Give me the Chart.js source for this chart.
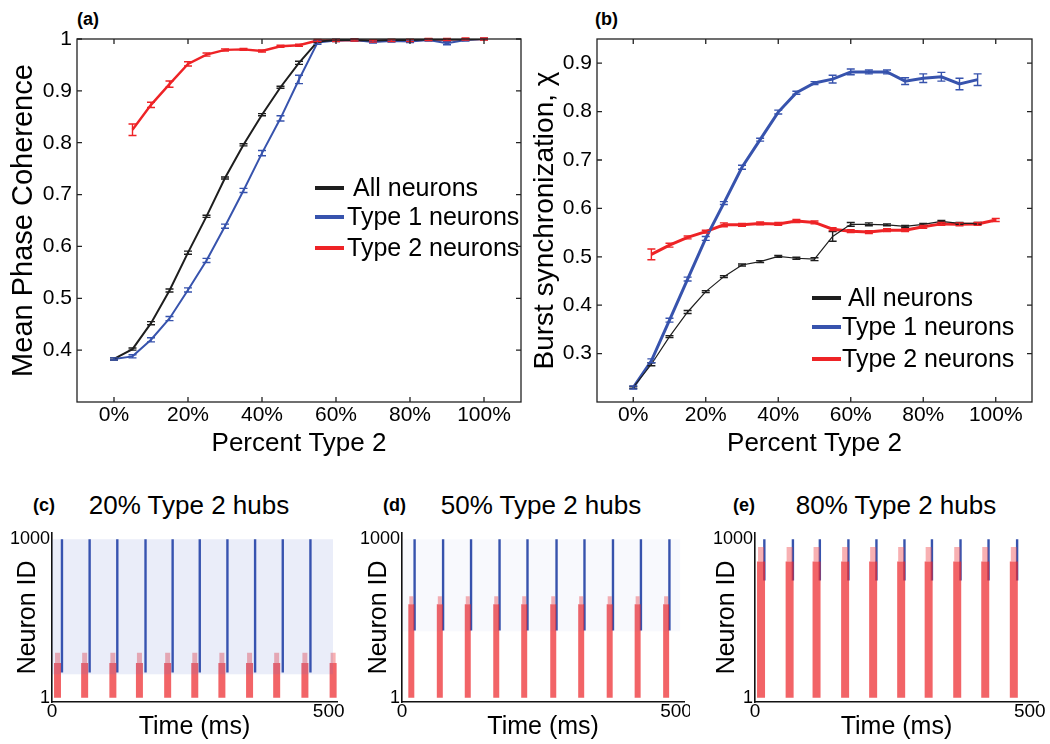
<!DOCTYPE html>
<html>
<head>
<meta charset="utf-8">
<script src="https://cdn.jsdelivr.net/npm/chart.js@4.4.1/dist/chart.umd.min.js"></script>
<style>
  body { margin: 0; background: #fff; width: 1050px; height: 744px; overflow: hidden; position: relative;
         font-family: 'Liberation Sans', Arial, sans-serif; color: #000; }
  canvas { position: absolute; }
  .lab { position: absolute; font-weight: bold; font-size: 18px; line-height: 18px; }
  .ttl { position: absolute; font-size: 26px; line-height: 26px; white-space: nowrap; transform: translateX(-50%); }
</style>
</head>
<body>
<div class="lab" style="left:77px;top:10px">(a)</div>
<div class="lab" style="left:595px;top:10px">(b)</div>
<div class="lab" style="left:33px;top:496px">(c)</div>
<div class="ttl" style="left:189px;top:492px">20% Type 2 hubs</div>
<div class="lab" style="left:383px;top:496px">(d)</div>
<div class="ttl" style="left:541px;top:492px">50% Type 2 hubs</div>
<div class="lab" style="left:733px;top:496px">(e)</div>
<div class="ttl" style="left:896px;top:492px">80% Type 2 hubs</div>

<canvas id="ga" width="525" height="470" style="left:0;top:0"></canvas>
<canvas id="gb" width="525" height="470" style="left:525px;top:0"></canvas>
<canvas id="gc" width="345" height="224" style="left:0;top:520px"></canvas>
<canvas id="gd" width="345" height="224" style="left:345px;top:520px"></canvas>
<canvas id="ge" width="360" height="224" style="left:690px;top:520px"></canvas>

<script>
// percent of type 2 neurons
const pct = [0, 5, 10, 15, 20, 25, 30, 35, 40, 45, 50, 55, 60, 65, 70, 75, 80, 85, 90, 95, 100];
const pctTicks = [0, 20, 40, 60, 80, 100];

// (a) mean phase coherence
const allA = [0.383, 0.402, 0.452, 0.515, 0.588, 0.658, 0.732, 0.796, 0.854, 0.907, 0.954, 0.995, 0.998, 0.998, 0.997, 0.998, 0.998, 0.999, 0.999, 0.999, 1.0];
const t1A  = [0.383, 0.388, 0.420, 0.461, 0.516, 0.573, 0.639, 0.708, 0.780, 0.847, 0.922, 0.993, 0.997, 0.998, 0.994, 0.996, 0.995, 0.998, 0.992, 0.998, 1.0];
const t2A  = [null, 0.825, 0.873, 0.913, 0.952, 0.970, 0.979, 0.980, 0.977, 0.986, 0.988, 0.997, 0.997, 0.998, 0.996, 0.997, 0.997, 0.999, 0.999, 1.0, 1.0];
const errAllA = [0.002, 0.002, 0.003, 0.003, 0.003, 0.002, 0.002, 0.002, 0.002, 0.002, 0.003, 0.002, 0.001, 0.001, 0.001, 0.001, 0.001, 0.001, 0.001, 0.001, 0.001];
const errT1A  = [0.002, 0.003, 0.004, 0.004, 0.004, 0.004, 0.004, 0.004, 0.005, 0.005, 0.008, 0.003, 0.002, 0.002, 0.002, 0.002, 0.002, 0.002, 0.003, 0.002, 0.001];
const errT2A  = [null, 0.011, 0.005, 0.006, 0.004, 0.003, 0.002, 0.002, 0.002, 0.002, 0.002, 0.002, 0.002, 0.002, 0.002, 0.002, 0.002, 0.002, 0.002, 0.002, 0.002];
const ticksA = [0.4, 0.5, 0.6, 0.7, 0.8, 0.9, 1];

// (b) burst synchronization
const allB = [0.230, 0.278, 0.335, 0.386, 0.428, 0.459, 0.483, 0.490, 0.501, 0.497, 0.495, 0.542, 0.567, 0.567, 0.566, 0.563, 0.567, 0.573, 0.569, 0.569];
const t1B  = [0.230, 0.285, 0.369, 0.454, 0.538, 0.611, 0.685, 0.742, 0.799, 0.839, 0.859, 0.867, 0.882, 0.882, 0.882, 0.863, 0.869, 0.872, 0.857, 0.866];
const t2B  = [null, 0.505, 0.524, 0.540, 0.552, 0.566, 0.566, 0.569, 0.568, 0.574, 0.571, 0.557, 0.553, 0.551, 0.555, 0.555, 0.562, 0.568, 0.567, 0.568, 0.576];
const errAllB = [0.002, 0.003, 0.002, 0.003, 0.002, 0.002, 0.002, 0.002, 0.002, 0.002, 0.003, 0.010, 0.004, 0.003, 0.002, 0.002, 0.002, 0.002, 0.002, 0.002];
const errT1B  = [0.003, 0.004, 0.004, 0.004, 0.004, 0.003, 0.004, 0.003, 0.004, 0.003, 0.003, 0.008, 0.006, 0.004, 0.004, 0.007, 0.009, 0.009, 0.012, 0.012];
const errT2B  = [null, 0.011, 0.004, 0.003, 0.003, 0.004, 0.003, 0.003, 0.003, 0.003, 0.003, 0.003, 0.003, 0.003, 0.003, 0.003, 0.003, 0.003, 0.003, 0.003, 0.003];
const ticksB = [0.3, 0.4, 0.5, 0.6, 0.7, 0.8, 0.9];

// (c)-(e) raster: burst times (ms) of type 1 (blue) and type 2 (red) populations
const blueC = [18, 68, 118, 169, 218, 267, 317, 367, 417, 467];
const redC  = [10, 59, 110, 158, 209, 258, 307, 357, 406, 457, 508];
const blueD = [23, 75, 126, 178, 229, 282, 333, 385, 436, 488];
const redD  = [17, 69, 120, 172, 223, 276, 327, 379, 430, 482];
const blueE = [17, 69, 118, 170, 221, 272, 322, 374, 425, 477];
const redE  = [11, 63, 112, 164, 215, 266, 316, 368, 419, 471];
const neuronTicks = [1, 1000];
const timeTicks = [0, 500];

Chart.defaults.font.family = "'Liberation Sans', Arial, sans-serif";
Chart.defaults.color = '#000';
Chart.defaults.animation = false;

const BLACK = '#1e1e1e', BLUE = '#3753ad', RED = '#ee2326';

// box with inward ticks, matlab style
const boxTicks = {
  id: 'boxTicks',
  afterDraw(chart) {
    const { ctx, chartArea: a, scales: { x, y } } = chart;
    ctx.save();
    ctx.strokeStyle = '#222';
    ctx.lineWidth = 1.3;
    ctx.strokeRect(a.left, a.top, a.right - a.left, a.bottom - a.top);
    ctx.beginPath();
    x.ticks.forEach(t => {
      const p = x.getPixelForValue(t.value);
      ctx.moveTo(p, a.bottom); ctx.lineTo(p, a.bottom - 5);
      ctx.moveTo(p, a.top); ctx.lineTo(p, a.top + 5);
    });
    y.ticks.forEach(t => {
      const p = y.getPixelForValue(t.value);
      ctx.moveTo(a.left, p); ctx.lineTo(a.left + 5, p);
      ctx.moveTo(a.right, p); ctx.lineTo(a.right - 5, p);
    });
    ctx.stroke();
    ctx.restore();
  }
};

const errorBars = {
  id: 'errorBars',
  afterDatasetsDraw(chart) {
    const { ctx, scales: { y } } = chart;
    ctx.save();
    chart.data.datasets.forEach((ds, i) => {
      const meta = chart.getDatasetMeta(i);
      ctx.strokeStyle = ds.borderColor;
      ctx.lineWidth = 1.4;
      ctx.beginPath();
      meta.data.forEach((pt, j) => {
        const d = ds.data[j];
        if (d.e == null) return;
        const t = y.getPixelForValue(d.y + d.e), b = y.getPixelForValue(d.y - d.e);
        ctx.moveTo(pt.x, t); ctx.lineTo(pt.x, b);
        ctx.moveTo(pt.x - 4, t); ctx.lineTo(pt.x + 4, t);
        ctx.moveTo(pt.x - 4, b); ctx.lineTo(pt.x + 4, b);
      });
      ctx.stroke();
    });
    ctx.restore();
  }
};

const legendLines = {
  id: 'legendLines',
  afterDraw(chart, args, o) {
    if (!o.rows) return;
    const ctx = chart.ctx;
    ctx.save();
    ctx.font = "25px 'Liberation Sans', Arial, sans-serif";
    ctx.textBaseline = 'middle';
    ctx.fillStyle = '#000';
    chart.data.datasets.forEach((ds, i) => {
      const [ry, tx] = o.rows[i];
      ctx.strokeStyle = ds.borderColor;
      ctx.lineWidth = 4;
      ctx.beginPath(); ctx.moveTo(o.x0, ry); ctx.lineTo(o.x1, ry); ctx.stroke();
      ctx.fillText(ds.label, tx, ry + 1);
    });
    ctx.restore();
  }
};

function series(label, vals, errs, color, width) {
  return {
    label,
    data: vals.map((v, i) => ({ x: pct[i], y: v, e: errs[i] })).filter(d => d.y !== null),
    borderColor: color,
    backgroundColor: color,
    borderWidth: width,
    pointRadius: 0,
    tension: 0
  };
}

function percentChart(id, datasets, o) {
  return new Chart(document.getElementById(id), {
    type: 'line',
    data: { datasets },
    plugins: [errorBars, boxTicks, legendLines],
    options: {
      responsive: false,
      layout: { padding: { top: 39, right: o.padRight, left: 0, bottom: 0 } },
      plugins: { legend: { display: false }, tooltip: { enabled: false }, legendLines: o.legend },
      scales: {
        x: {
          type: 'linear', min: -10, max: 110,
          afterBuildTicks: s => { s.ticks = pctTicks.map(v => ({ value: v })); },
          afterFit: s => { s.height = 68; },
          ticks: { callback: v => v + '%', font: { size: 21 }, padding: 1, autoSkip: false, maxRotation: 0 },
          grid: { display: false, drawTicks: false },
          border: { display: false },
          title: { display: true, text: 'Percent Type 2', font: { size: 26 }, padding: { top: 0, bottom: 11 } }
        },
        y: {
          min: o.ymin, max: o.ymax,
          afterBuildTicks: s => { s.ticks = o.yticks.map(v => ({ value: v })); },
          afterFit: s => { s.width = o.yWidth; },
          ticks: { callback: v => v === 1 ? '1' : v.toFixed(1), font: { size: 21 }, padding: 5, autoSkip: false },
          grid: { display: false, drawTicks: false },
          border: { display: false },
          title: { display: true, text: o.ytitle, font: { size: o.ytitleSize }, padding: { top: o.ytitlePad, bottom: 0 } }
        }
      }
    }
  });
}

percentChart('ga', [
  series('All neurons', allA, errAllA, BLACK, 2),
  series('Type 1 neurons', t1A, errT1A, BLUE, 2),
  series('Type 2 neurons', t2A, errT2A, RED, 2.4)
], {
  padRight: 4, ymin: 0.3, ymax: 1, yticks: ticksA, yWidth: 77,
  ytitle: 'Mean Phase Coherence', ytitleSize: 29, ytitlePad: 7,
  legend: { x0: 315, x1: 344, rows: [[188, 353], [217, 347], [248, 347]] }
});

percentChart('gb', [
  series('All neurons', allB, errAllB, BLACK, 1.2),
  series('Type 1 neurons', t1B, errT1B, BLUE, 3),
  series('Type 2 neurons', t2B, errT2B, RED, 3)
], {
  padRight: 18, ymin: 0.2, ymax: 0.95, yticks: ticksB, yWidth: 72,
  ytitle: 'Burst synchronization, \u03c7', ytitleSize: 28, ytitlePad: 3,
  legend: { x0: 287, x1: 316, rows: [[298, 323], [327, 317], [359, 317]] }
});

function raster(id, blue, red, o) {
  const redMain = [], redTip = [], blueLines = [];
  red.forEach(t => {
    redMain.push({ x: t, y: 1 }, { x: t, y: o.redTop }, { x: t, y: null });
    redTip.push({ x: t, y: o.redTop }, { x: t, y: o.tipTop }, { x: t, y: null });
  });
  blue.forEach(t => blueLines.push({ x: t, y: o.blueLow }, { x: t, y: 1000 }, { x: t, y: null }));

  return new Chart(document.getElementById(id), {
    type: 'line',
    data: {
      datasets: [
        { data: [{ x: 0, y: 1000 }, { x: 508, y: 1000 }], fill: { value: o.bgLow }, backgroundColor: o.bg, borderWidth: 0, pointRadius: 0 },
        { data: redMain, borderColor: 'rgba(237,40,45,0.72)', borderWidth: o.redW, pointRadius: 0, spanGaps: false },
        { data: redTip, borderColor: 'rgba(240,80,85,0.45)', borderWidth: o.redW - 2, pointRadius: 0, spanGaps: false },
        { data: blueLines, borderColor: BLUE, borderWidth: 2.4, pointRadius: 0, spanGaps: false }
      ]
    },
    options: {
      responsive: false,
      layout: { padding: { top: 12, right: o.padRight, left: 0, bottom: 0 } },
      plugins: { legend: { display: false }, tooltip: { enabled: false } },
      scales: {
        x: {
          type: 'linear', min: 0, max: 515,
          afterBuildTicks: s => { s.ticks = timeTicks.map(v => ({ value: v })); },
          afterFit: s => { s.height = 42; },
          ticks: { callback: v => String(v), font: { size: 19 }, padding: -2, autoSkip: false, maxRotation: 0 },
          grid: { display: true, drawOnChartArea: false, drawTicks: false },
          border: { display: true, color: '#111', width: 1.6 },
          title: { display: true, text: 'Time (ms)', font: { size: 25 }, padding: { top: 0, bottom: 2 } }
        },
        y: {
          min: -25, max: 1040,
          afterBuildTicks: s => { s.ticks = neuronTicks.map(v => ({ value: v })); },
          afterFit: s => { s.width = o.yWidth; },
          ticks: { callback: v => String(v), font: { size: 18 }, padding: 2, autoSkip: false },
          grid: { display: true, drawOnChartArea: false, drawTicks: false },
          border: { display: true, color: '#111', width: 1.6 },
          title: { display: true, text: 'Neuron ID', font: { size: 25 }, padding: { top: o.ytitlePad, bottom: 0 } }
        }
      }
    }
  });
}

raster('gc', blueC, redC, { yWidth: 52, padRight: 8, ytitlePad: 13, redTop: 220, tipTop: 285, blueLow: 160, redW: 7, bgLow: 150, bg: 'rgba(60,90,200,0.11)' });
raster('gd', blueD, redD, { yWidth: 57, padRight: 5, ytitlePad: 19, redTop: 590, tipTop: 640, blueLow: 425, redW: 6, bgLow: 420, bg: 'rgba(60,90,200,0.035)' });
raster('ge', blueE, redE, { yWidth: 65, padRight: 12, ytitlePad: 22, redTop: 860, tipTop: 950, blueLow: 740, redW: 8, bgLow: 990, bg: 'rgba(255,255,255,0)' });
</script>
</body>
</html>
